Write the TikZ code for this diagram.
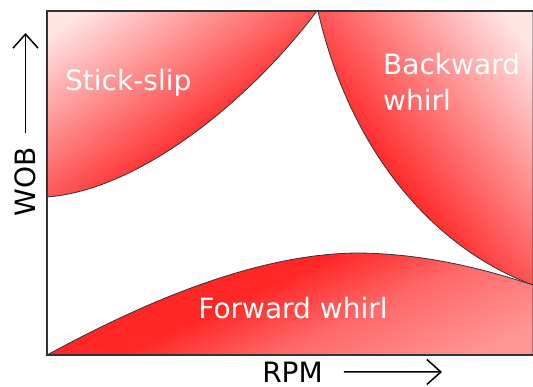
\documentclass[tikz,border=0pt]{standalone}
\usepackage{fontspec}
\setmainfont{DejaVu Sans}
\usetikzlibrary{arrows.meta}
\definecolor{zonered}{RGB}{255,38,38}
\definecolor{zonepink}{RGB}{255,228,228}
\definecolor{zonesalmon}{RGB}{255,105,105}
\definecolor{zonerose}{RGB}{255,150,150}
\definecolor{edgegray}{RGB}{51,51,51}
\pgfdeclareverticalshading{cornerfade}{100bp}{color(0bp)=(zonered); color(40bp)=(zonered); color(80bp)=(zonepink); color(100bp)=(zonepink)}
\pgfdeclareverticalshading{bandfade}{100bp}{color(0bp)=(zonerose); color(22bp)=(zonerose); color(41bp)=(zonesalmon); color(56bp)=(zonered); color(100bp)=(zonered)}
\tikzstyle{zone} = [draw=edgegray, line width=0.8pt]
\tikzstyle{zonelabel} = [text=white, font=\fontsize{28}{36}\selectfont, inner sep=0pt]
\tikzstyle{axislabel} = [text=black, font=\fontsize{28}{36}\selectfont]
\tikzstyle{axis} = [draw=edgegray, line width=1.5pt]
\tikzstyle{line} = [draw, line width=1.5pt, -{Straight Barb[length=14pt,width=25pt]}]

\begin{document}
\begin{tikzpicture}[x=1pt, y=-1pt]
  \useasboundingbox (0,0) rectangle (533,387);

  % regions
  \path [zone, shade, shading=cornerfade, shading angle=35]
    (47,11) -- (317,11) .. controls (250,100) and (140,190) .. (47,197) -- cycle;
  \path [zone, shade, shading=cornerfade, shading angle=-52]
    (318,11) .. controls (347,140) and (425,245) .. (533,285) -- (533,11) -- cycle;
  \path [zone, shade, shading=bandfade, shading angle=25]
    (47,355) .. controls (130,310) and (250,253) .. (360,253)
    .. controls (430,254) and (490,271) .. (533,285) -- (533,355) -- cycle;

  % frame
  \path [axis] (533,11) -- (47,11) -- (47,355) -- (533,355);

  \node [zonelabel, anchor=base west] (stickslip) at (65,91) {Stick-slip};
  \node [zonelabel, anchor=north west, align=left] (backward) at (383,53) {Backward\\whirl};
  \node [zonelabel, anchor=base] (forward) at (293,319) {Forward whirl};

  % axis labels
  \node [axislabel, rotate=90, inner xsep=14pt] (wob) at (25.5,182) {WOB};
  \coordinate (wobtip) at (25.5,33);
  \path [line] (wob.east) -- (wobtip);

  \node [axislabel, anchor=base, inner sep=0pt] (rpm) at (292.5,382) {RPM};
  \coordinate (rpmtip) at (442,372);
  \path [line] ([xshift=21pt]rpm.east) -- (rpmtip);
\end{tikzpicture}
\end{document}
